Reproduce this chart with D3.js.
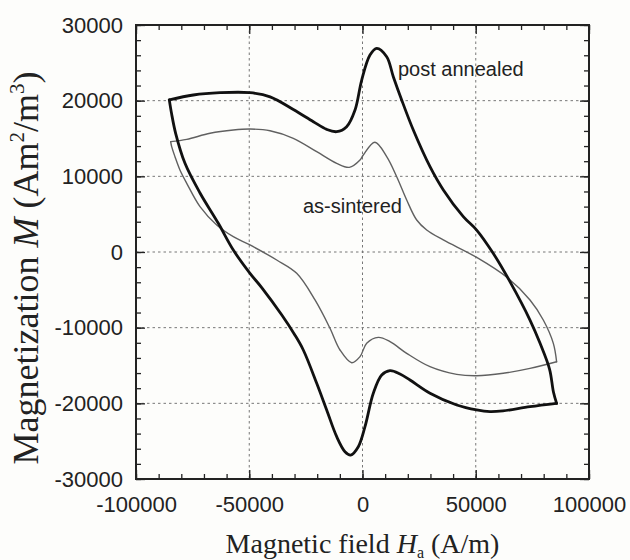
<!DOCTYPE html>
<html>
<head>
<meta charset="utf-8">
<script src="https://cdn.jsdelivr.net/npm/d3@7"></script>
<style>
  body { margin: 0; background: #fdfdfb; }
  svg { display: block; }
  .tick text { font-family: "Liberation Sans", Arial, sans-serif; font-size: 22px; fill: #222; }
</style>
</head>
<body>
<svg id="chart" width="630" height="560"></svg>
<script>
// hysteresis loops, [H (A/m), M (Am2/m3)]
var annealedUp = [
  [-85300, 20100], [-74700, 20750], [-62900, 21050], [-49700, 21050], [-40800, 20500],
  [-30550, 18830], [-21700, 17220], [-15800, 16200], [-11400, 15900], [-7000, 16560],
  [-3300, 18770], [-350, 22730], [3300, 26030], [6270, 26920], [10680, 25810],
  [13600, 23170], [17300, 20090], [22430, 16120], [29800, 11280], [35700, 8200],
  [44500, 4670], [50400, 2900], [57700, -170], [65100, -3920], [73950, -8990],
  [78400, -12070], [82600, -15500], [84300, -18500], [85700, -20000]
];
var annealedDown = [
  [85700, -20000], [73950, -20440], [62000, -21000], [56300, -21100], [50400, -20880],
  [41590, -20220], [29800, -18670], [20970, -16920], [16560, -16120], [12140, -15680],
  [8480, -16250], [4770, -18670], [1100, -23090], [-1850, -25730], [-5210, -26830],
  [-7730, -26390], [-11390, -24410], [-15810, -20880], [-20220, -17350], [-26140, -12950],
  [-30000, -10900], [-35700, -8300], [-44500, -4700], [-49670, -2820], [-57040, 260],
  [-63660, 3790], [-71740, 7800], [-78370, 11720], [-82500, 15690], [-84300, 18300],
  [-85300, 20100]
];
var sinteredUp = [
  [-84700, 14580], [-77600, 14890], [-67300, 15690], [-57040, 16120], [-49670, 16250],
  [-40840, 16030], [-30550, 15030], [-20220, 13260], [-11390, 11720], [-5830, 11190],
  [-1100, 12160], [350, 12820], [5500, 14500], [10680, 12600], [15100, 9950],
  [19510, 6870], [23930, 4230], [28340, 2910], [35670, 1590], [50420, -720],
  [64000, -3400], [73950, -6340], [79820, -8990], [84250, -12070], [85700, -14500]
];
var sinteredDown = [
  [85700, -14500], [73950, -15380], [62160, -16030], [50400, -16350], [41590, -16170],
  [29800, -15160], [19510, -13390], [12140, -11850], [6980, -11280], [1850, -12070],
  [-1100, -13830], [-4770, -14630], [-9930, -12950], [-14350, -10080], [-20970, -6340],
  [-29050, -2820], [-37880, -1060], [-49670, 930], [-57040, 2020], [-64370, 3570],
  [-71740, 5990], [-77600, 9080], [-80600, 10840], [-82800, 12600], [-84250, 13920],
  [-84700, 14580]
];

var xTicks = [-100000, -50000, 0, 50000, 100000];
var yTicks = [-30000, -20000, -10000, 0, 10000, 20000, 30000];
var xMinor = d3.range(-100000, 100001, 10000);
var yMinor = d3.range(-30000, 30001, 2000);

var plotL = 136, plotR = 589, plotT = 25, plotB = 479;

var svg = d3.select("#chart");

var x = d3.scaleLinear().domain([-100000, 100000]).range([plotL, plotR]);
var y = d3.scaleLinear().domain([-30000, 30000]).range([plotB, plotT]);

// dotted grid at major ticks
var grid = svg.append("g")
  .attr("stroke", "#777")
  .attr("stroke-width", 1)
  .attr("stroke-dasharray", "2.5,3");
grid.selectAll(".gx")
  .data(xTicks.slice(1, -1))
  .join("line")
  .attr("x1", d => x(d)).attr("x2", d => x(d))
  .attr("y1", plotT).attr("y2", plotB);
grid.selectAll(".gy")
  .data(yTicks.slice(1, -1))
  .join("line")
  .attr("y1", d => y(d)).attr("y2", d => y(d))
  .attr("x1", plotL).attr("x2", plotR);

// minor ticks, all four sides, pointing in
function noText(g) { g.select(".domain").remove(); g.selectAll("text").remove(); }
svg.append("g").attr("transform", "translate(0," + plotB + ")")
  .call(d3.axisBottom(x).tickValues(xMinor).tickSize(-5)).call(noText);
svg.append("g").attr("transform", "translate(0," + plotT + ")")
  .call(d3.axisTop(x).tickValues(xMinor).tickSize(-5)).call(noText);
svg.append("g").attr("transform", "translate(" + plotL + ",0)")
  .call(d3.axisLeft(y).tickValues(yMinor).tickSize(-5)).call(noText);
svg.append("g").attr("transform", "translate(" + plotR + ",0)")
  .call(d3.axisRight(y).tickValues(yMinor).tickSize(-5)).call(noText);

// major ticks with labels
var fmt = d => String(d);
svg.append("g").attr("transform", "translate(0," + plotB + ")")
  .call(d3.axisBottom(x).tickValues(xTicks).tickFormat(fmt).tickSize(-9).tickSizeOuter(0).tickPadding(17))
  .call(g => g.select(".domain").remove());
svg.append("g").attr("transform", "translate(" + plotL + ",0)")
  .call(d3.axisLeft(y).tickValues(yTicks).tickFormat(fmt).tickSize(-9).tickSizeOuter(0).tickPadding(13))
  .call(g => g.select(".domain").remove());
svg.append("g").attr("transform", "translate(0," + plotT + ")")
  .call(d3.axisTop(x).tickValues(xTicks).tickSize(-9)).call(noText);
svg.append("g").attr("transform", "translate(" + plotR + ",0)")
  .call(d3.axisRight(y).tickValues(yTicks).tickSize(-9)).call(noText);

svg.selectAll(".tick line").attr("stroke", "#222").attr("stroke-width", 1.3);
svg.selectAll(".tick text").attr("fill", "#222");

// frame
svg.append("rect")
  .attr("x", plotL).attr("y", plotT)
  .attr("width", plotR - plotL).attr("height", plotB - plotT)
  .attr("fill", "none").attr("stroke", "#222").attr("stroke-width", 2);

// loops
var line = d3.line()
  .x(d => x(d[0]))
  .y(d => y(d[1]))
  .curve(d3.curveCatmullRom.alpha(0.5));

[sinteredUp, sinteredDown].forEach(function(b) {
  svg.append("path").attr("d", line(b))
    .attr("fill", "none").attr("stroke", "#606060").attr("stroke-width", 1.4)
    .attr("stroke-linecap", "round");
});
[annealedUp, annealedDown].forEach(function(b) {
  svg.append("path").attr("d", line(b))
    .attr("fill", "none").attr("stroke", "#111").attr("stroke-width", 2.8)
    .attr("stroke-linecap", "round").attr("stroke-linejoin", "round");
});

// curve labels
svg.append("text")
  .attr("x", 398).attr("y", 76)
  .style("font-family", "Liberation Sans, Arial, sans-serif")
  .style("font-size", "20px").attr("fill", "#222")
  .text("post annealed");
svg.append("text")
  .attr("x", 303).attr("y", 213)
  .style("font-family", "Liberation Sans, Arial, sans-serif")
  .style("font-size", "20px").attr("fill", "#222")
  .text("as-sintered");

// axis titles
var xt = svg.append("text")
  .attr("x", (plotL + plotR) / 2).attr("y", 553)
  .attr("text-anchor", "middle")
  .style("font-family", "Liberation Serif, Times New Roman, serif")
  .style("font-size", "28px").attr("fill", "#222");
xt.append("tspan").text("Magnetic field ");
xt.append("tspan").style("font-style", "italic").text("H");
xt.append("tspan").attr("dy", 5).style("font-size", "16px").text("a");
xt.append("tspan").attr("dy", -5).text(" (A/m)");

var yt = svg.append("text")
  .attr("transform", "translate(38,268) rotate(-90)")
  .attr("text-anchor", "middle")
  .style("font-family", "Liberation Serif, Times New Roman, serif")
  .style("font-size", "36px").attr("fill", "#222");
yt.append("tspan").text("Magnetization ");
yt.append("tspan").style("font-style", "italic").text("M");
yt.append("tspan").text(" (Am");
yt.append("tspan").attr("dy", -14).style("font-size", "21px").text("2");
yt.append("tspan").attr("dy", 14).text("/m");
yt.append("tspan").attr("dy", -14).style("font-size", "21px").text("3");
yt.append("tspan").attr("dy", 14).text(")");
</script>
</body>
</html>
